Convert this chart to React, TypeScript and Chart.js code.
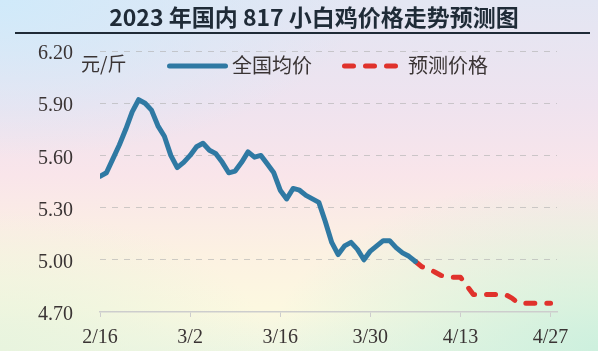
import React, { useEffect, useRef } from "react";
import { Chart, registerables } from "chart.js";

Chart.register(...registerables);

const TITLE = "2023 年国内 817 小白鸡价格走势预测图";
const UNIT = "元/斤";
const SERIES_NAMES = ["全国均价", "预测价格"];
const X_TICK_DAYS = [0, 14, 28, 42, 56, 70];
const X_TICK_LABELS = ["2/16", "3/2", "3/16", "3/30", "4/13", "4/27"];
const Y_TICKS = [4.7, 5.0, 5.3, 5.6, 5.9, 6.2];
const X_MAX_DAY = 71;

// daily national average price, from 2/16 (day 0)
const ACTUAL_START_DAY = 0;
const ACTUAL_PRICES = [
  5.48, 5.5, 5.58, 5.66, 5.75, 5.85, 5.92, 5.9, 5.86, 5.77,
  5.71, 5.6, 5.53, 5.56, 5.6, 5.65, 5.67, 5.63, 5.61, 5.56,
  5.5, 5.51, 5.56, 5.62, 5.59, 5.6, 5.55, 5.5, 5.4, 5.35,
  5.41, 5.4, 5.37, 5.35, 5.33, 5.22, 5.1, 5.03, 5.08, 5.1,
  5.06, 5.0, 5.05, 5.08, 5.11, 5.11, 5.07, 5.04, 5.02, 4.99,
];

// forecast price, from 4/6 (day 49)
const FORECAST_START_DAY = 49;
const FORECAST_PRICES = [
  4.99, 4.96, 4.95, 4.93, 4.91, 4.9, 4.9, 4.9, 4.85, 4.8,
  4.8, 4.8, 4.8, 4.8, 4.8, 4.78, 4.75, 4.75, 4.75, 4.75,
  4.75, 4.75,
];

const BLUE = "#2f79a3";
const RED = "#e0322c";
const TEXT = "#3a3434";
const DASH = [9, 12];

const decorPlugin = {
  id: "decor",
  beforeDatasetsDraw(chart: any) {
    const ctx = chart.ctx as CanvasRenderingContext2D;
    ctx.save();
    // title
    ctx.fillStyle = "#1f2b37";
    ctx.font = 'bold 23px "Noto Sans CJK SC"';
    ctx.textAlign = "center";
    ctx.textBaseline = "middle";
    ctx.fillText(TITLE, 314, 17);
    // underline
    ctx.strokeStyle = "#1f2b37";
    ctx.lineWidth = 2;
    ctx.beginPath();
    ctx.moveTo(15, 33);
    ctx.lineTo(590, 33);
    ctx.stroke();
    // unit
    ctx.fillStyle = TEXT;
    ctx.font = '19px "Noto Sans CJK SC"';
    ctx.textAlign = "left";
    ctx.fillText(UNIT, 81, 64);
    // legend
    const ds = chart.data.datasets;
    ctx.lineCap = "round";
    ctx.lineWidth = 5;
    ctx.strokeStyle = ds[0].borderColor;
    ctx.setLineDash([]);
    ctx.beginPath();
    ctx.moveTo(169.5, 66);
    ctx.lineTo(225.5, 66);
    ctx.stroke();
    ctx.font = '20px "Noto Sans CJK SC"';
    ctx.fillText(ds[0].label, 232, 65);
    ctx.strokeStyle = ds[1].borderColor;
    ctx.setLineDash(DASH);
    ctx.beginPath();
    ctx.moveTo(344.5, 66);
    ctx.lineTo(396, 66);
    ctx.stroke();
    ctx.setLineDash([]);
    ctx.fillText(ds[1].label, 408, 65);
    ctx.restore();
  },
};

export default function App() {
  const ref = useRef<HTMLCanvasElement>(null);
  useEffect(() => {
    if (!ref.current) return;
    const actual = ACTUAL_PRICES.map((v, i) => ({ x: ACTUAL_START_DAY + i, y: v }));
    const forecast = FORECAST_PRICES.map((v, i) => ({ x: FORECAST_START_DAY + i, y: v }));
    const chart = new Chart(ref.current, {
      type: "line",
      data: {
        datasets: [
          {
            label: SERIES_NAMES[0],
            data: actual,
            borderColor: BLUE,
            borderWidth: 5,
            pointRadius: 0,
            tension: 0,
            borderCapStyle: "round",
            borderJoinStyle: "round",
          },
          {
            label: SERIES_NAMES[1],
            data: forecast,
            borderColor: RED,
            borderWidth: 5,
            borderDash: DASH,
            pointRadius: 0,
            tension: 0,
            borderCapStyle: "round",
            borderJoinStyle: "round",
          },
        ],
      },
      options: {
        animation: false,
        responsive: true,
        maintainAspectRatio: false,
        layout: { padding: { top: 51, right: 41, bottom: 0, left: 0 } },
        plugins: {
          legend: { display: false },
          title: { display: false },
          tooltip: { enabled: false },
        },
        scales: {
          x: {
            type: "linear",
            min: 0,
            max: X_MAX_DAY,
            afterBuildTicks: (s: any) => {
              s.ticks = X_TICK_DAYS.map((v) => ({ value: v }));
            },
            afterFit: (s: any) => {
              s.height = 38;
            },
            ticks: {
              autoSkip: false,
              maxRotation: 0,
              padding: 9,
              color: TEXT,
              font: { family: '"Liberation Serif"', size: 20 },
              callback: (v: any) => {
                const i = X_TICK_DAYS.indexOf(Number(v));
                return i >= 0 ? X_TICK_LABELS[i] : "";
              },
            },
            grid: {
              drawOnChartArea: false,
              drawTicks: true,
              tickLength: 5,
              color: "#cdcdcd",
            },
            border: { display: true, color: "#cdcdcd", width: 1.5 },
          },
          y: {
            min: 4.7,
            max: 6.2,
            afterBuildTicks: (s: any) => {
              s.ticks = Y_TICKS.map((v) => ({ value: v }));
            },
            afterFit: (s: any) => {
              s.width = 100;
            },
            ticks: {
              padding: 27,
              labelOffset: 3,
              color: TEXT,
              font: { family: '"Liberation Serif"', size: 20 },
              callback: (v: any) => Number(v).toFixed(2),
            },
            grid: {
              drawTicks: false,
              color: (c: any) =>
                c.tick && Math.abs(c.tick.value - 4.7) < 1e-6 ? "rgba(0,0,0,0)" : "rgba(175,175,175,0.6)",
              lineWidth: 1,
            },
            border: { display: false, dash: [6, 6] },
          },
        },
      },
      plugins: [decorPlugin],
    });
    return () => chart.destroy();
  }, []);

  return (
    <div
      style={{
        position: "fixed",
        left: 0,
        top: 0,
        width: 598,
        height: 351,
        background: [
          "radial-gradient(ellipse 60% 45% at 0% 0%, rgba(208,234,250,1) 0%, rgba(208,234,250,0) 100%)",
          "radial-gradient(ellipse 55% 50% at 100% 100%, rgba(205,240,222,1) 0%, rgba(205,240,222,0) 100%)",
          "radial-gradient(ellipse 45% 40% at 0% 100%, rgba(232,244,222,1) 0%, rgba(232,244,222,0) 100%)",
          "linear-gradient(180deg, #e3e6f3 0%, #efe3ef 30%, #f9e5ea 50%, #fcf1e2 72%, #fcf8e0 88%, #eef6e3 100%)",
        ].join(", "),
      }}
    >
      <canvas ref={ref} width={598} height={351} />
    </div>
  );
}
